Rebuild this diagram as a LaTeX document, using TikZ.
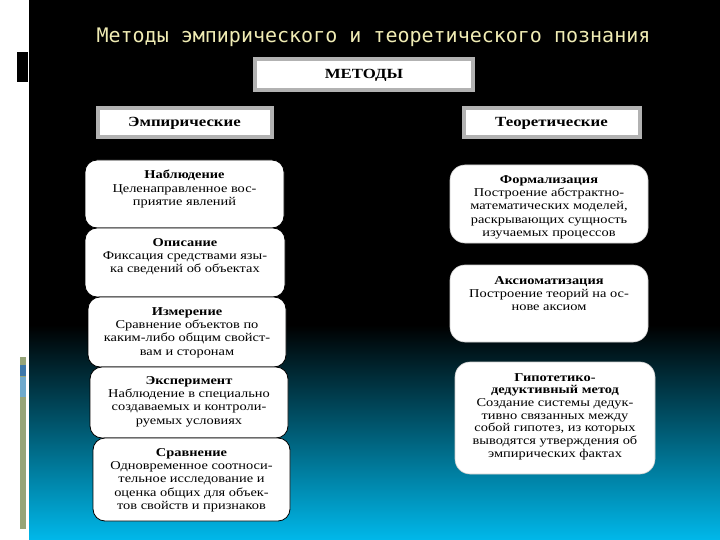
\documentclass[tikz,border=0pt]{standalone}
\usepackage{fontspec}
\setmainfont{Liberation Serif}
\newfontfamily\boxfont{Liberation Serif}[FakeStretch=1.2]
\newfontfamily\titlefont{DejaVu Sans Mono}

\definecolor{titleyellow}{RGB}{240,236,180}
\definecolor{deepteal}{RGB}{8,78,108}
\definecolor{brightcyan}{RGB}{0,184,234}
\definecolor{stripolive}{RGB}{150,165,120}
\definecolor{stripblue}{RGB}{60,120,170}
\definecolor{striplight}{RGB}{110,170,205}

\tikzset{
  headbox/.style={draw=gray!60, line width=4pt, fill=white, inner sep=0pt},
  headtext/.style={font=\boxfont\bfseries\fontsize{14}{15}\selectfont, inner sep=0pt},
  leftbox/.style={draw=black, line width=0.8pt, fill=white, rounded corners=12pt},
  rightbox/.style={draw=gray!40, line width=0.6pt, fill=white, rounded corners=15pt},
  boxtext/.style={font=\boxfont\fontsize{12}{13.4}\selectfont, align=center, anchor=north, inner sep=0pt}
}

\begin{document}
\begin{tikzpicture}[x=1pt,y=1pt,yscale=-1,xscale=1]
\useasboundingbox (0,0) rectangle (720,540);

%Shape: Background
\fill[white] (0,0) rectangle (720,540);
\fill[black] (29,0) rectangle (720,326);
\shade[top color=black, middle color=deepteal, bottom color=brightcyan] (29,325) rectangle (720,540);
%Shape: side strip marks
\fill[black] (17,52) rectangle (28,82);
\fill[stripolive] (20,357) rectangle (26,529);
\fill[stripblue] (20,365) rectangle (26,376);
\fill[striplight] (20,377) rectangle (26,397);

% Text Node
\node[anchor=base, text=titleyellow, font=\titlefont\fontsize{20}{22}\selectfont, inner sep=0pt] (title) at (373.5,43) {Методы эмпирического и теоретического познания};

%Shape: header boxes
\node[headbox, minimum width=218, minimum height=31] (metody) at (364,75) {};
\node[headtext] (metodytxt) at (364,75) {МЕТОДЫ};
\node[headbox, minimum width=174, minimum height=29] (emp) at (184.5,123) {};
\node[headtext] (emptxt) at (184.5,123) {Эмпирические};
\node[headbox, minimum width=176, minimum height=29] (teor) at (551.5,123) {};
\node[headtext] (teortxt) at (551.5,123) {Теоретические};

%Shape: empirical column
\draw[leftbox] (85,160) rectangle (284,228);
\node[boxtext] (nabl) at (184.5,170) {\textbf{Наблюдение}\\Целенаправленное вос-\\приятие явлений};
\draw[leftbox] (85,228) rectangle (285,297);
\node[boxtext] (opis) at (185,238) {\textbf{Описание}\\Фиксация средствами язы-\\ка сведений об объектах};
\draw[leftbox] (88,297) rectangle (286,367);
\node[boxtext] (izm) at (187,307) {\textbf{Измерение}\\Сравнение объектов по\\каким-либо общим свойст-\\вам и сторонам};
\draw[leftbox] (90,367) rectangle (288,438);
\node[boxtext] (eksp) at (189,376) {\textbf{Эксперимент}\\Наблюдение в специально\\создаваемых и контроли-\\руемых условиях};
\draw[leftbox] (93,438) rectangle (290,521);
\node[boxtext] (srav) at (191.5,448) {\textbf{Сравнение}\\Одновременное соотноси-\\тельное исследование и\\оценка общих для объек-\\тов свойств и признаков};

%Shape: theoretical column
\draw[rightbox] (450,165) rectangle (648,243);
\node[boxtext] (form) at (549,175) {\textbf{Формализация}\\Построение абстрактно-\\математических моделей,\\раскрывающих сущность\\изучаемых процессов};
\draw[rightbox] (450,265) rectangle (648,342);
\node[boxtext] (aks) at (549,276) {\textbf{Аксиоматизация}\\Построение теорий на ос-\\нове аксиом};
\draw[rightbox] (455,362) rectangle (655,474);
\node[boxtext, font=\boxfont\fontsize{12}{12.7}\selectfont] (gip) at (555,373) {\textbf{Гипотетико-}\\\textbf{дедуктивный метод}\\Создание системы дедук-\\тивно связанных между\\собой гипотез, из которых\\выводятся утверждения об\\эмпирических фактах};

\end{tikzpicture}
\end{document}
